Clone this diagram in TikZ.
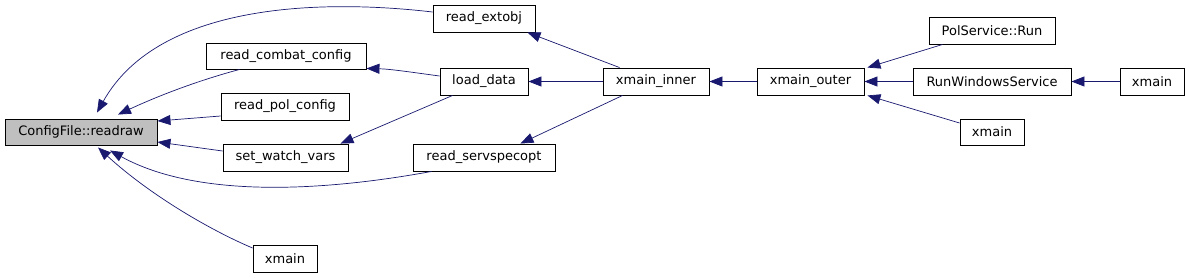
\documentclass[tikz,border=0pt]{standalone}
\usepackage{fontspec}
\setmainfont{DejaVu Sans}
\usetikzlibrary{arrows.meta,calc}
\definecolor{edgec}{HTML}{191970}
\definecolor{graybox}{HTML}{BFBFBF}
\begin{document}
\begin{tikzpicture}[x=1pt,y=-1pt,
  box/.style={draw=black,line width=0.9pt,inner sep=0pt,fill=white,
    font=\fontsize{13}{15}\selectfont},
  edge/.style={draw=edgec,line width=0.7pt,
    -{Triangle[length=13pt,width=10pt]},fill=none}]
\useasboundingbox (0,0) rectangle (1189,277);
% nodes
\node[box,fill=graybox,minimum width=152pt,minimum height=26pt] (cfg) at (81,132) {ConfigFile::readraw};
\node[box,minimum width=160pt,minimum height=26pt] (rcc) at (286,56) {read\_combat\_config};
\node[box,minimum width=128pt,minimum height=27pt] (rpc) at (285,106.5) {read\_pol\_config};
\node[box,minimum width=125pt,minimum height=27pt] (swv) at (285.5,157.5) {set\_watch\_vars};
\node[box,minimum width=64pt,minimum height=27pt] (xm1) at (285,258.5) {xmain};
\node[box,minimum width=102pt,minimum height=27pt] (rext) at (484,18.5) {read\_extobj};
\node[box,minimum width=88pt,minimum height=27pt] (ld) at (484,81.5) {load\_data};
\node[box,minimum width=142pt,minimum height=27pt] (rss) at (484,157.5) {read\_servspecopt};
\node[box,minimum width=106pt,minimum height=27pt] (xi) at (656,81.5) {xmain\_inner};
\node[box,minimum width=107pt,minimum height=27pt] (xo) at (810.5,81.5) {xmain\_outer};
\node[box,minimum width=126pt,minimum height=27pt] (psr) at (992,30.5) {PolService::Run};
\node[box,minimum width=158pt,minimum height=27pt] (rws) at (992,81.5) {RunWindowsService};
\node[box,minimum width=64pt,minimum height=27pt] (xm2) at (1152,81.5) {xmain};
\node[box,minimum width=64pt,minimum height=26pt] (xm3) at (992,132) {xmain};
% edges (caller -> callee)
\draw[edge] ($(rext.west)+(0,-6.5)$) .. controls (330,0) and (160,0) .. ($(cfg.north)+(16,-6)$);
\draw[edge] ($(rcc.south west)+(34,0)$) .. controls (200,80) and (160,95) .. ($(cfg.north)+(37,-4)$);
\draw[edge] ($(rpc.west)+(0,9.5)$) -- ($(cfg.east)+(0,-11)$);
\draw[edge] ($(swv.west)+(0,-6.5)$) -- ($(cfg.east)+(0,10)$);
\draw[edge] ($(rss.south west)+(19,0)$) .. controls (330,190) and (200,200) .. ($(cfg.south)+(29,5)$);
\draw[edge] ($(xm1.west)+(0,-10.5)$) .. controls (210,230) and (150,195) .. ($(cfg.south)+(17,2)$);
\draw[edge] ($(ld.west)+(0,-5.5)$) .. controls (410,72) and (390,69) .. ($(rcc.south east)+(0,-1)$);
\draw[edge] ($(ld.south west)+(13,0)$) -- ($(swv.north east)+(-8,0)$);
\draw[edge] ($(xi.north west)+(17,0)$) -- ($(rext.south east)+(-8,0)$);
\draw[edge] (xi.west) -- (ld.east);
\draw[edge] ($(xi.south west)+(20,0)$) -- ($(rss.north east)+(-35,0)$);
\draw[edge] (xo.west) -- (xi.east);
\draw[edge] ($(psr.south west)+(14,0)$) -- ($(xo.north east)+(3,0)$);
\draw[edge] (rws.west) -- (xo.east);
\draw[edge] ($(xm3.west)+(0,-9)$) -- ($(xo.south east)+(3,0)$);
\draw[edge] (xm2.west) -- (rws.east);
\end{tikzpicture}
\end{document}
